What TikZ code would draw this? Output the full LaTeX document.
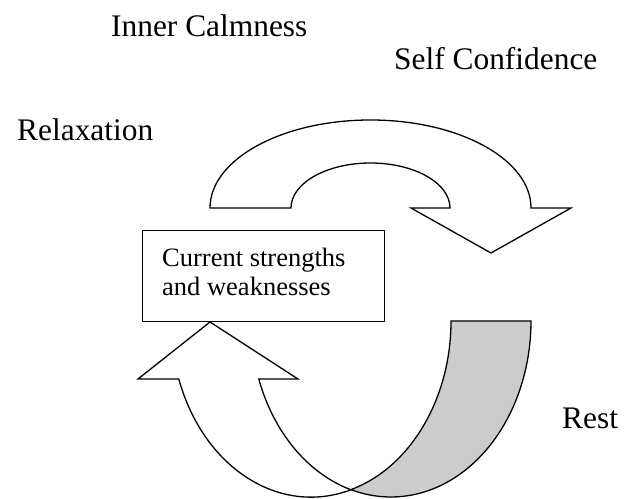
\documentclass[tikz,border=0pt]{standalone}
\usepackage{fontspec}
\setmainfont[Ligatures=NoCommon]{Liberation Serif}
\definecolor{bandgray}{RGB}{204,204,204}
\begin{document}
\begin{tikzpicture}[x=1pt,y=1pt,
  arrowshape/.style={draw=black, line width=1.3pt, line join=miter},
  biglabel/.style={anchor=base west, inner sep=0pt, font=\fontsize{31.4}{36}\selectfont},
  boxlabel/.style={anchor=base west, inner sep=0pt, font=\fontsize{26.5}{30}\selectfont},
  box/.style={draw=black, line width=1.3pt, anchor=south west, inner sep=0pt, minimum width=242pt, minimum height=91pt}]
\useasboundingbox (0,0) rectangle (629,498);

% labels
\node[biglabel] (calm) at (111,461.3) {Inner Calmness};
\node[biglabel] (conf) at (394,428) {Self Confidence};
\node[biglabel] (relax) at (17,357) {Relaxation};
\node[biglabel] (rest) at (562,70) {Rest};

% top curved arrow
\draw[arrowshape, fill=white] (210,290)
  arc[start angle=180, end angle=0, x radius=160.5pt, y radius=88pt]
  -- (571,290) -- (491,245) -- (411,290) -- (450,290)
  arc[start angle=0, end angle=180, x radius=79.5pt, y radius=45pt]
  -- cycle;

% box
\node[box] (box) at (142,176) {};
\node[boxlabel] (l1) at (162,231.5) {Current strengths};
\node[boxlabel] (l2) at (162,202) {and weaknesses};

% bottom curved up arrow: shaded back part
\draw[arrowshape, fill=bandgray] (451,177)
  arc[start angle=360, end angle=286.6, x radius=140pt, y radius=176pt]
  arc[start angle=253.4, end angle=360, x radius=140pt, y radius=176pt]
  -- cycle;

% bottom curved up arrow: front part with head
\draw[arrowshape, fill=white] (178.8,119)
  arc[start angle=199.2, end angle=286.6, x radius=140pt, y radius=176pt]
  arc[start angle=253.4, end angle=199.2, x radius=140pt, y radius=176pt]
  -- (298,119) -- (box.south -| 210,0) -- (138,119) -- cycle;
\end{tikzpicture}
\end{document}
